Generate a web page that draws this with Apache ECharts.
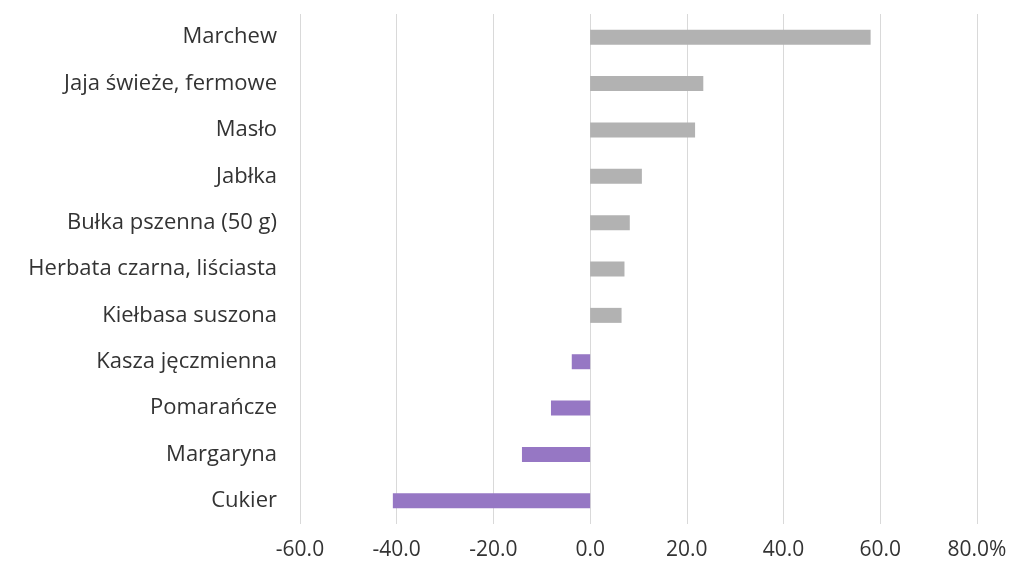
<!DOCTYPE html>
<html>
<head>
<meta charset="utf-8">
<script src="https://cdn.jsdelivr.net/npm/echarts@6/dist/echarts.min.js"></script>
<style>html,body{margin:0;padding:0;background:#fff;}#c{width:1019px;height:562px;}</style>
</head>
<body>
<div id="c"></div>
<script>
const categories = ["Marchew","Jaja świeże, fermowe","Masło","Jabłka","Bułka pszenna (50 g)","Herbata czarna, liściasta","Kiełbasa suszona","Kasza jęczmienna","Pomarańcze","Margaryna","Cukier"];
const values = [58.0, 23.4, 21.7, 10.7, 8.2, 7.1, 6.5, -3.8, -8.1, -14.1, -40.8];
const axisMin = -60, axisMax = 80, axisStep = 20;

const chart = echarts.init(document.getElementById('c'));
chart.setOption({
  animation: false,
  grid: { left: 300, right: 42, top: 14, bottom: 38, containLabel: false },
  xAxis: {
    type: 'value', min: axisMin, max: axisMax, interval: axisStep,
    axisLine: { show: false }, axisTick: { show: false },
    splitLine: { show: true, lineStyle: { color: '#d9d9d9', width: 1 } },
    axisLabel: {
      color: '#333', fontSize: 21, fontFamily: 'Open Sans', margin: 16,
      formatter: v => v === axisMax ? v.toFixed(1) + '%' : v.toFixed(1)
    }
  },
  yAxis: {
    type: 'category', data: categories, inverse: true,
    axisLine: { show: false }, axisTick: { show: false },
    axisLabel: { color: '#333', fontSize: 22, fontFamily: 'Open Sans', margin: 23 }
  },
  series: [{
    type: 'bar', data: values, barWidth: 15,
    itemStyle: { color: p => p.value < 0 ? '#9677c4' : '#b2b2b2' }
  }]
});
</script>
</body>
</html>
